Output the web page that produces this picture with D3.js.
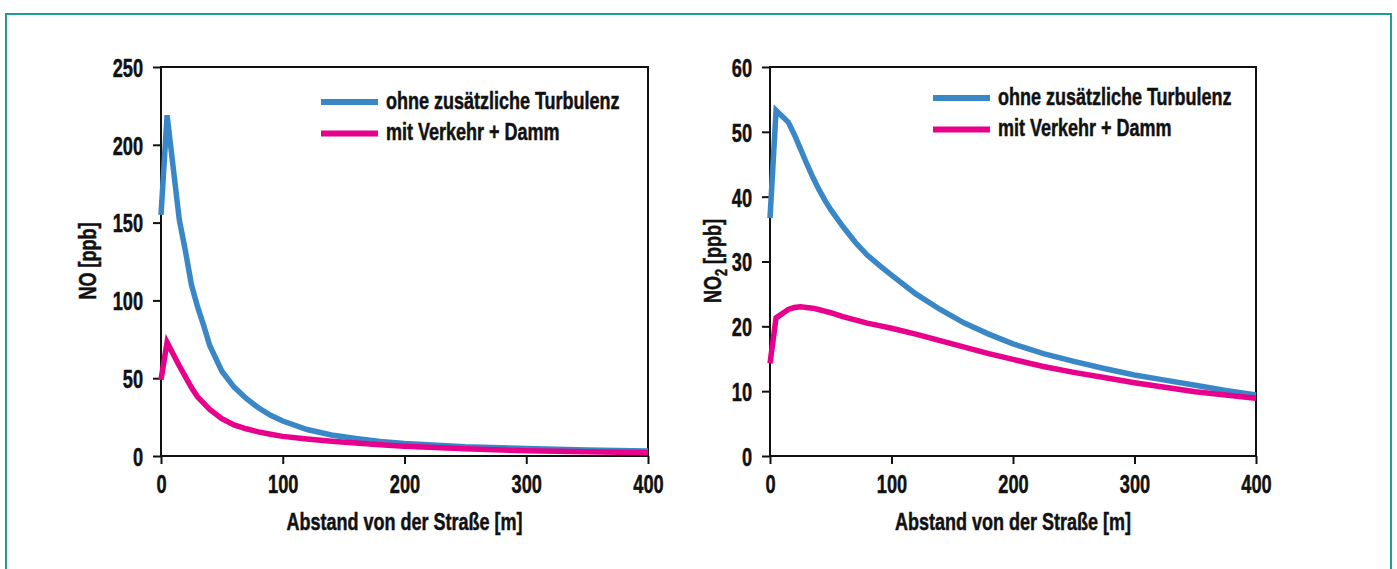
<!DOCTYPE html>
<html><head><meta charset="utf-8">
<script src="https://cdn.jsdelivr.net/npm/d3@7/dist/d3.min.js"></script>
<style>
html,body{margin:0;padding:0;background:#fff;}
svg text{font-family:"Liberation Sans",Arial,sans-serif;font-weight:bold;fill:#111;stroke:#111;stroke-width:0.5px;}
</style></head><body>
<svg id="c" width="1397" height="569"></svg>
<script>
const noDist = [0,5,15,20,25,30,35,40,50,60,70,80,90,100,120,140,160,180,200,250,300,350,400];
const noOhne = [155,219,152,132,110,96,84,71,54.5,44.3,37,31,26.2,22.5,17,13.5,11.2,9.4,8,5.9,4.8,3.8,3.2];
const noDamm = [49,73,58,51,44,38,34,30,24,20,17.5,15.5,14,12.6,10.9,9.5,8.3,7.2,6.3,4.6,3.4,2.7,2.1];

const no2Dist = [0,5,15,20,25,30,35,40,45,50,60,70,80,90,100,120,140,160,180,200,225,250,275,300,325,350,375,400];
const no2Ohne = [36.7,53.3,51.5,49.6,47.4,45.2,43.1,41.2,39.5,38,35.4,33,31,29.4,27.9,25,22.6,20.5,18.8,17.3,15.8,14.6,13.5,12.5,11.7,10.9,10.1,9.4];
const no2Damm = [14.3,21.3,22.6,22.9,23,22.9,22.8,22.6,22.35,22.1,21.5,21,20.5,20.1,19.7,18.8,17.8,16.8,15.8,14.9,13.8,12.9,12.1,11.3,10.6,9.9,9.4,8.9];

const xTicks = [0,100,200,300,400];
const noTicks = [0,50,100,150,200,250];
const no2Ticks = [0,10,20,30,40,50,60];
const seriesNames = ["ohne zusätzliche Turbulenz","mit Verkehr + Damm"];
const colors = ["#3a87c8","#e8008c"];

const TS = 0.7;   // horizontal condensation of tick labels
const LS = 0.75;  // horizontal condensation of legend/titles

const svg = d3.select("#c");
svg.append("rect").attr("x",6).attr("y",14).attr("width",1385).attr("height",570)
  .attr("fill","none").attr("stroke","#1f9e8c").attr("stroke-width",2);

function ctext(parent, x, y, str, size, anchor, rot){
  const g = parent.append("g").attr("transform",`translate(${x},${y})${rot?" rotate("+rot+")":""} scale(${LS},1)`);
  return g.append("text").attr("text-anchor",anchor||"start").style("font-size",size+"px").text(str);
}

function panel(opt){
  const g = svg.append("g");
  const x = d3.scaleLinear().domain([0,400]).range([opt.x0,opt.x1]);
  const y = d3.scaleLinear().domain([0,opt.ymax]).range([456,67]);
  g.append("rect").attr("x",opt.x0).attr("y",67).attr("width",opt.x1-opt.x0).attr("height",456-67)
    .attr("fill","none").attr("stroke","#111").attr("stroke-width",2);
  const xa = g.append("g").attr("transform","translate(0,456)")
    .call(d3.axisBottom(x).tickValues(xTicks).tickSize(8).tickFormat(d3.format("d")));
  const ya = g.append("g").attr("transform",`translate(${opt.x0},0)`)
    .call(d3.axisLeft(y).tickValues(opt.ticks).tickSize(8).tickFormat(d3.format("d")));
  [xa,ya].forEach(a=>{
    a.select(".domain").remove();
    a.selectAll(".tick line").attr("stroke","#111").attr("stroke-width",2);
    a.selectAll(".tick text").style("font-size","26px").attr("fill","#111")
      .attr("transform",`scale(${TS},1)`);
  });
  xa.selectAll(".tick text").attr("y",37).attr("dy",0);
  ya.selectAll(".tick text").attr("x",-18/TS).attr("dy","0.36em");

  const line = d3.line().x((d,i)=>x(opt.dist[i])).y(d=>y(d));
  [opt.s1,opt.s2].forEach((s,k)=>{
    g.append("path").datum(s).attr("d",line).attr("fill","none")
      .attr("stroke",colors[k]).attr("stroke-width",5.5).attr("stroke-linejoin","miter");
  });
  seriesNames.forEach((n,k)=>{
    const ly = opt.ly + k*31.5;
    g.append("line").attr("x1",opt.lx).attr("x2",opt.lx+57).attr("y1",ly).attr("y2",ly)
      .attr("stroke",colors[k]).attr("stroke-width",6);
    ctext(g, opt.lx+65, ly+6.8, n, 24);
  });
  ctext(g, (opt.x0+opt.x1)/2, 530, "Abstand von der Straße [m]", 24, "middle");
  const t = ctext(g, opt.tx, 261, "", 24, "middle", -90);
  opt.title(t);
}

panel({x0:161,x1:648,ymax:250,ticks:noTicks,dist:noDist,s1:noOhne,s2:noDamm,lx:321,ly:102,tx:96,
  title:t=>t.text("NO [ppb]")});
panel({x0:770,x1:1256,ymax:60,ticks:no2Ticks,dist:no2Dist,s1:no2Ohne,s2:no2Damm,lx:933,ly:98,tx:721,
  title:t=>{t.append("tspan").text("NO");t.append("tspan").attr("dy",6).style("font-size","17px").text("2");
    t.append("tspan").attr("dy",-6).text(" [ppb]");}});
</script></body></html>
